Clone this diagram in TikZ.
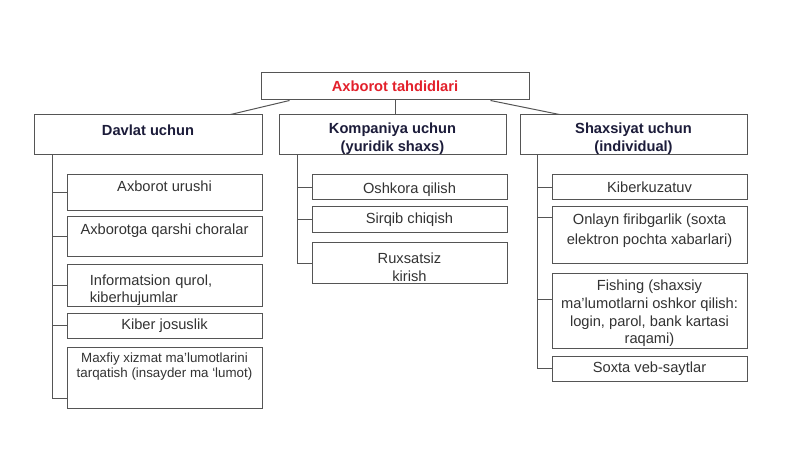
\documentclass[tikz,border=0pt]{standalone}
\usepackage{fontspec}
\setmainfont{Liberation Sans}
\usepackage{tikz}
\usepackage{xcolor}
\definecolor{titlered}{HTML}{E3202B}
\definecolor{headblue}{HTML}{1C1C3A}
\definecolor{itemgray}{HTML}{333333}
\definecolor{linegray}{HTML}{555555}
\tikzset{
  px/.style 2 args={minimum width=#1*0.75pt, minimum height=#2*0.75pt},
  cell/.style={draw=linegray, line width=0.75pt, fill=white, inner sep=1pt, align=center, font=\fontsize{11}{13.5}\selectfont},
  head/.style={cell, text=headblue, font=\fontsize{11}{13.5}\selectfont\bfseries},
  item/.style={cell, text=itemgray},
  link/.style={draw=linegray, line width=0.75pt}
}

\begin{document}
\begin{tikzpicture}[x=0.75pt, y=-0.75pt]
\useasboundingbox (0,0) rectangle (800,449);

\node[head, px={268}{27}, text=titlered] (T) at (395,86.5) {Axborot tahdidlari};
\node[head, px={228}{40}, text depth=7.5pt] (D) at (148,135) {Davlat uchun};
\node[head, px={227}{40}, text height=25pt, text depth=0pt] (K) at (392.5,135) {Kompaniya uchun\\(yuridik shaxs)};
\node[head, px={227}{40}, text height=25pt, text depth=0pt] (S) at (633.5,135) {Shaxsiyat uchun\\(individual)};

\node[item, px={195}{36}, text depth=10pt] (D1) at (164.5,193) {Axborot urushi};
\node[item, px={195}{40}, text depth=11.5pt] (D2) at (164.5,237) {Axborotga qarshi choralar};
\node[item, px={195}{42}, align=left, text width=112pt, inner xsep=17pt, text height=13.2pt, text depth=13pt, font=\fontsize{11}{12.8}\selectfont] (D3) at (164.5,285) {Informatsion qurol,\\kiberhujumlar};
\node[item, px={195}{25}] (D4) at (164.5,325.5) {Kiber josuslik};
\node[item, px={195}{61}, text depth=19pt, font=\fontsize{10}{11.3}\selectfont] (D5) at (164.5,377.5) {Maxfiy xizmat ma'lumotlarini\\tarqatish (insayder ma `lumot)};

\node[item, px={195}{25}, text height=11pt] (K1) at (409.5,187.5) {Oshkora qilish};
\node[item, px={195}{26}] (K2) at (409.5,220) {Sirqib chiqish};
\node[item, px={195}{40}, text height=27.5pt, text depth=0pt] (K3) at (409.5,263) {Ruxsatsiz\\kirish};

\node[item, px={195}{25}] (S1) at (649.5,187.5) {Kiberkuzatuv};
\node[item, px={195}{56}, text depth=9pt, font=\fontsize{11}{15}\selectfont] (S2) at (649.5,235) {Onlayn firibgarlik (soxta\\elektron pochta xabarlari)};
\node[item, px={195}{75}, text height=50pt, text depth=0pt, font=\fontsize{11}{13.3}\selectfont] (S3) at (649.5,310.5) {Fishing (shaxsiy\\ma'lumotlarni oshkor qilish:\\login, parol, bank kartasi\\raqami)};
\node[item, px={195}{25}] (S4) at (649.5,368.5) {Soxta veb-saytlar};

\draw[link] ([xshift=-24pt]D.north east) -- ([xshift=21.75pt]T.south west);
\draw[link] (T.south) -- (T.south |- K.north);
\draw[link] ([xshift=-29.25pt]T.south east) -- ([xshift=30pt]S.north west);

\coordinate (Dtop) at (52,155);
\coordinate (Ktop) at (297,155);
\coordinate (Stop) at (537,155);

\draw[link] (Dtop) |- ([yshift=-15.4pt]D5.west);
\draw[link] (Dtop |- D1.west) -- (D1.west);
\draw[link] (Dtop |- D2.west) -- (D2.west);
\draw[link] (Dtop |- D3.west) -- (D3.west);
\draw[link] (Dtop |- D4.west) -- (D4.west);

\draw[link] (Ktop) |- (K3.west);
\draw[link] (Ktop |- K1.west) -- (K1.west);
\draw[link] (Ktop |- K2.west) -- (K2.west);

\draw[link] (Stop) |- (S4.west);
\draw[link] (Stop |- S1.west) -- (S1.west);
\draw[link] ([yshift=12.75pt]Stop |- S2.west) -- ([yshift=12.75pt]S2.west);
\draw[link] ([yshift=7.9pt]Stop |- S3.west) -- ([yshift=7.9pt]S3.west);
\end{tikzpicture}
\end{document}
